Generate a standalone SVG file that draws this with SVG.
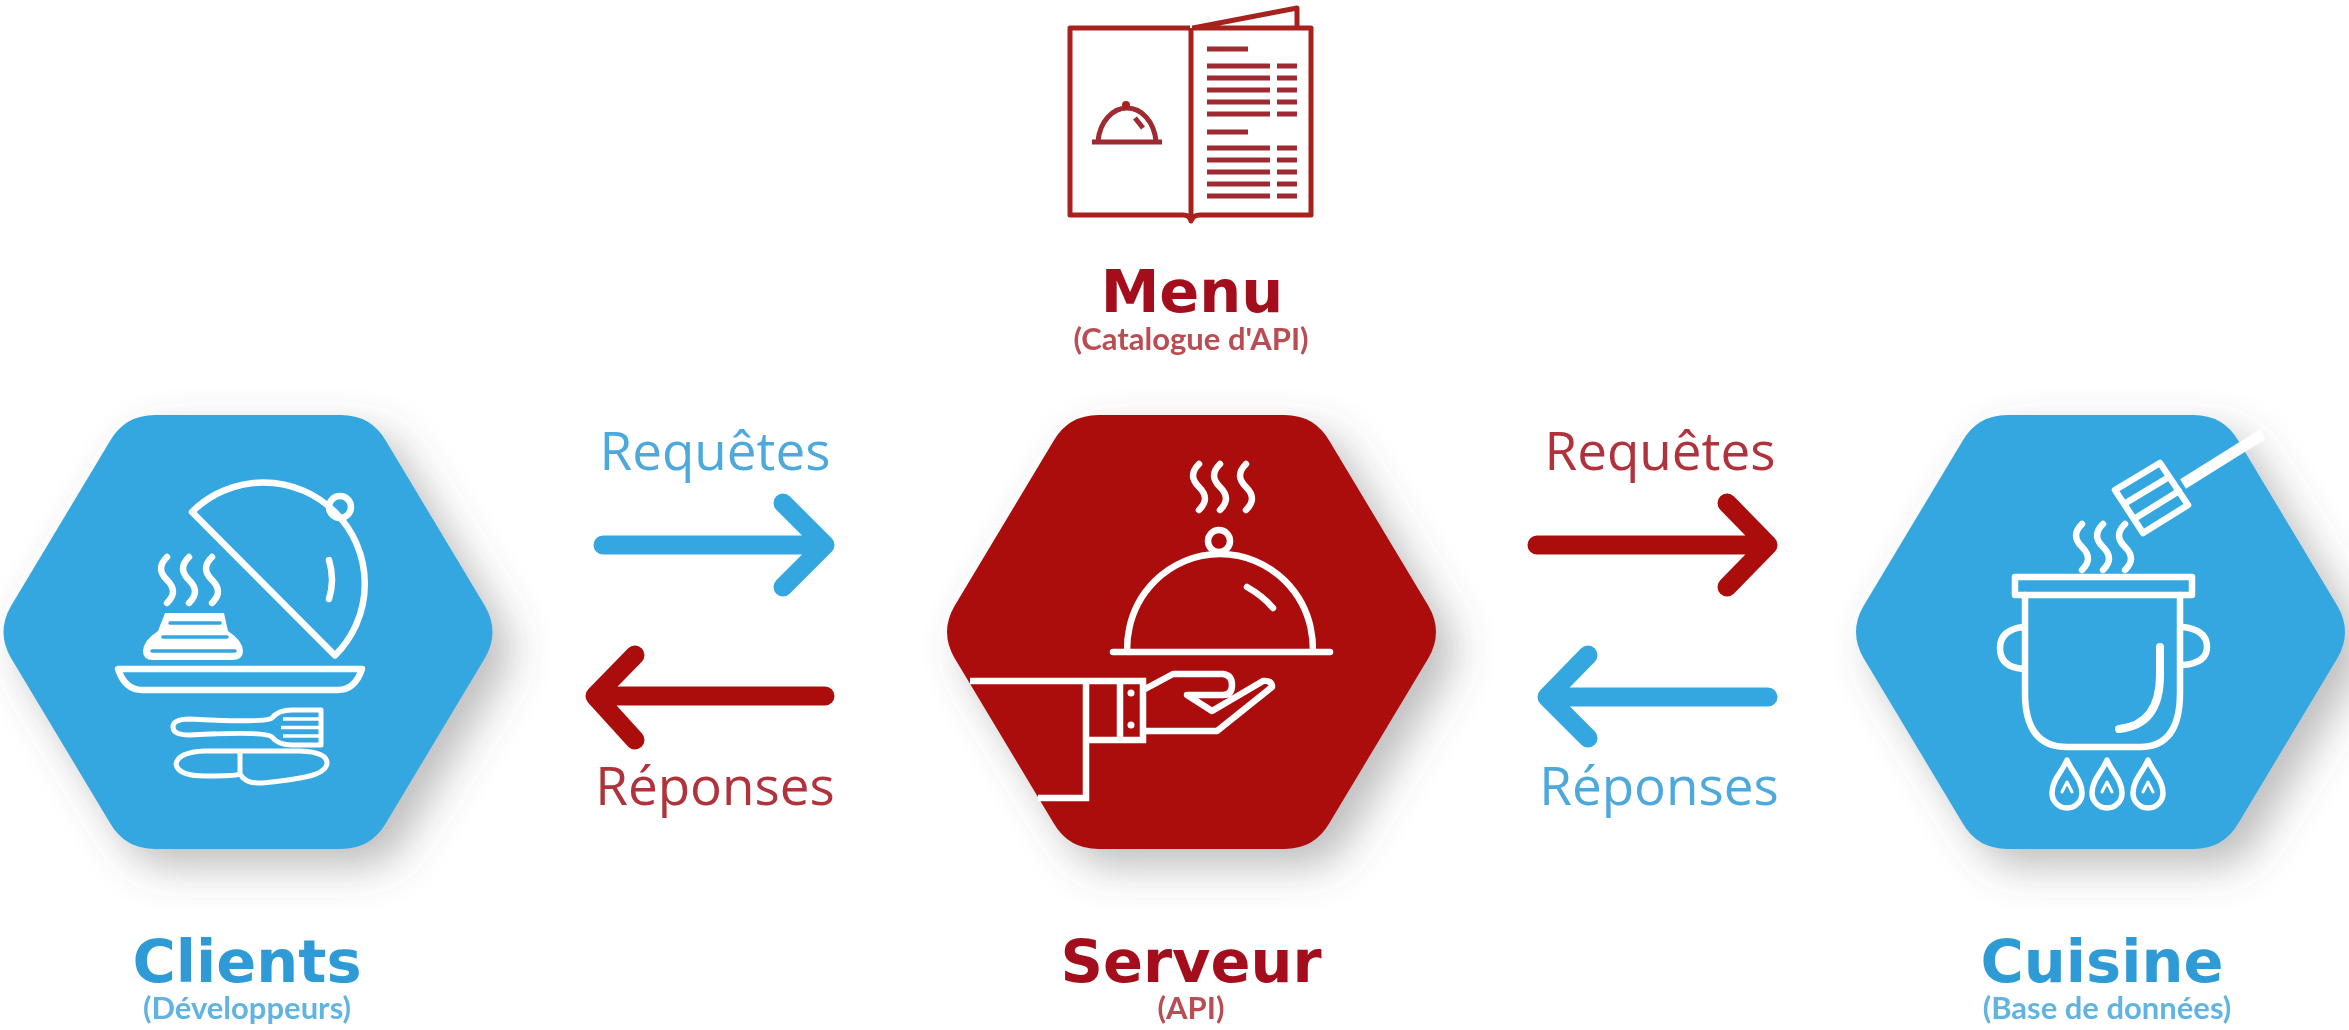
<svg xmlns="http://www.w3.org/2000/svg" width="2349" height="1030" viewBox="0 0 2349 1030">
<style>
text{text-anchor:middle}
.title{font-family:"DejaVu Sans","Liberation Sans",sans-serif;font-size:59px;font-weight:700}
.sub{font-family:"Lato","Noto Sans",sans-serif;font-size:31px;font-weight:700;opacity:.75}
.lab{font-family:"Open Sans","Noto Sans",sans-serif;font-size:53px;font-weight:400;opacity:.85}
.blue{fill:#2F9BD6}
.red{fill:#A3101A}
.hb{fill:#35A7E0}
.hr{fill:#AB1010}
.ic{fill:none;stroke:#fff;stroke-width:6.5;stroke-linecap:round;stroke-linejoin:round}
.ic2{fill:none;stroke:#A8201F;stroke-width:5;stroke-linejoin:round}
.bar{fill:none;stroke:#A02A30;stroke-width:5}
.arw{fill:none;stroke-width:19;stroke-linecap:round;stroke-linejoin:round}
</style>
<defs>
<path id="hex" d="M-93,-217H93Q123,-217 138,-191L237,-26Q252,0 237,26L138,191Q123,217 93,217H-93Q-123,217 -138,191L-237,26Q-252,0 -237,-26L-138,-191Q-123,-217 -93,-217Z"/>
<path id="steam" d="M0,0c-8,8 -8,15 0,23c8,8 8,15 0,23"/>
<path id="flame" d="M0,-24C-5,-12 -15,-4 -15,9A15,15 0 0 0 15,9C15,-4 5,-12 0,-24Z"/>
<filter id="sh" x="-20%" y="-20%" width="150%" height="150%"><feDropShadow dx="18" dy="18" stdDeviation="20" flood-color="#555" flood-opacity=".38"/></filter>
<filter id="soft" x="0" y="0" width="2349" height="1030" filterUnits="userSpaceOnUse"><feGaussianBlur stdDeviation=".7"/></filter>
</defs>
<rect width="2349" height="1030" fill="#fff"/>
<g filter="url(#soft)">
<g id="menu">
<path class="ic2" d="M1190,28H1070V215H1183Q1190,215 1191,221Q1193,215 1200,215H1311V28H1192M1191,28V218M1193,28L1297,8V27"/>
<path class="bar" d="M1207,49H1248M1207,132H1248M1207,66H1270M1207,78H1270M1207,90H1270M1207,102H1270M1207,114H1270M1207,148H1270M1207,160H1270M1207,172H1270M1207,184H1270M1207,196H1270M1277,66H1297M1277,78H1297M1277,90H1297M1277,102H1297M1277,114H1297M1277,148H1297M1277,160H1297M1277,172H1297M1277,184H1297M1277,196H1297"/>
<path class="bar" d="M1092,142H1162M1098,141C1100,122 1112,108 1127,108C1142,108 1154,122 1156,141M1135,118L1143,128"/>
<circle cx="1126" cy="105" r="4" fill="#A8201F"/>
<text class="title red" x="1192" y="312">Menu</text>
<text class="sub red" x="1191" y="350">(Catalogue d'API)</text>
</g>
<g id="clients">
<use href="#hex" class="hb" x="248" y="632" filter="url(#sh)"/>
<path class="ic" d="M192,512L335,655.500A101,101 0 0 0 192,512Z"/>
<circle class="ic" cx="340" cy="507" r="11"/>
<path class="ic" d="M329,560Q335,580 329,599"/>
<use href="#steam" class="ic" x="167" y="557"/>
<use href="#steam" class="ic" x="189" y="557"/>
<use href="#steam" class="ic" x="212" y="557"/>
<path d="M165,613H224L228,631Q243,641 243,651Q243,660 232,660H153Q143,660 143,651Q143,641 158,631Z" fill="#fff"/>
<path d="M170,623H220M163,637H227M152,651H235" fill="none" stroke="#35A7E0" stroke-width="3.500" stroke-linecap="round"/>
<path class="ic" d="M118,669H362Q355,690 338,690H142Q125,690 118,669Z"/>
<path class="ic" style="stroke-width:5" d="M321,710H292Q278,710 272,718Q265,723 190,719Q173,719 173,727Q173,735 190,735Q265,731 272,737Q278,745 292,745H321Z"/>
<path class="ic" style="stroke-width:3.500;stroke-linecap:butt" d="M283,719H321M281,727.500H321M283,736H321"/>
<path class="ic" style="stroke-width:5" d="M176,764Q178,752 205,751H300Q328,752 327,764Q325,774 300,778Q270,783 258,783Q245,783 240,774Q236,776 205,776Q178,776 176,764ZM240,753V774"/>
<text class="title blue" x="247" y="982">Clients</text>
<text class="sub blue" x="247" y="1019">(Développeurs)</text>
</g>
<g id="serveur">
<use href="#hex" class="hr" x="1191.500" y="632" filter="url(#sh)"/>
<use href="#steam" class="ic" x="1199" y="464"/>
<use href="#steam" class="ic" x="1220" y="464"/>
<use href="#steam" class="ic" x="1246" y="464"/>
<circle class="ic" cx="1219" cy="541" r="11"/>
<path class="ic" d="M1127,651C1127,594 1170,554 1220,554C1270,554 1313,594 1313,651M1113,652H1330M1247,587Q1263,596 1273,608"/>
<path class="ic" style="stroke-linecap:butt;stroke-linejoin:miter" d="M970,681H1143V740H1086V798H1038M1086,681V740M1120,681V740"/>
<circle cx="1131" cy="693" r="3.500" fill="#fff"/>
<circle cx="1131" cy="725" r="3.500" fill="#fff"/>
<path class="ic" d="M1145,689L1173,674H1223Q1232,675 1232,685Q1232,695 1223,695H1187L1212,711L1263,681Q1272,680 1272,687L1217,731H1145"/>
<text class="title red" x="1191" y="982">Serveur</text>
<text class="sub red" x="1191" y="1019">(API)</text>
</g>
<g id="cuisine">
<use href="#hex" class="hb" x="2100.500" y="632" filter="url(#sh)"/>
<path class="ic" style="stroke-width:11;stroke-linecap:butt" d="M2183,484L2263,434"/>
<path class="ic" d="M2115,490L2160,463L2188,505L2143,533ZM2124,504L2169,477M2134,519L2179,491"/>
<use href="#steam" class="ic" x="2082" y="524"/>
<use href="#steam" class="ic" x="2103" y="524"/>
<use href="#steam" class="ic" x="2125" y="524"/>
<rect class="ic" x="2015" y="577" width="177" height="18"/>
<path class="ic" d="M2025,595V693Q2025,747 2067,747H2140Q2180,747 2180,693V595M2023,627Q2000,630 2000,648Q2000,667 2023,669M2183,627Q2207,630 2207,647Q2207,663 2183,665"/>
<path class="ic" style="stroke-width:8" d="M2160,647V675Q2160,725 2119,729"/>
<g class="ic" style="stroke-width:5.500">
<use href="#flame" x="2067" y="784"/><use href="#flame" x="2107" y="784"/><use href="#flame" x="2148" y="784"/>
</g>
<path class="ic" style="stroke-width:3" d="M2062,792L2067,782L2072,792M2102,792L2107,782L2112,792M2143,792L2148,782L2153,792"/>
<text class="title blue" x="2102" y="982">Cuisine</text>
<text class="sub blue" x="2107" y="1019">(Base de données)</text>
</g>
<g id="connectors">
<path class="arw" stroke="#35A7E0" d="M603,545H820M783,503L825,545L783,587"/>
<path class="arw" stroke="#AB1010" d="M825,696H600M635,655L595,696L635,740"/>
<path class="arw" stroke="#AB1010" d="M1537,545H1762M1727,503L1768,545L1727,587"/>
<path class="arw" stroke="#35A7E0" d="M1768,697H1552M1588,655L1547,697L1588,738"/>
<text class="lab blue" x="715" y="470">Requêtes</text>
<text class="lab red" x="715" y="805">Réponses</text>
<text class="lab red" x="1660" y="470">Requêtes</text>
<text class="lab blue" x="1659" y="805">Réponses</text>
</g>
</g>
</svg>
